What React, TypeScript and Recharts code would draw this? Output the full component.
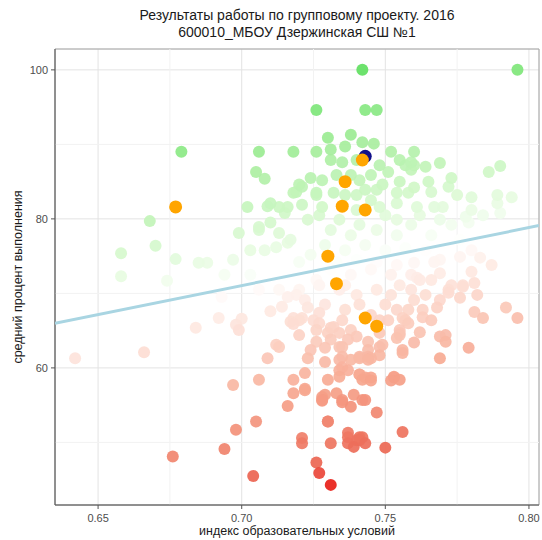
import React from "react";
import {
  ScatterChart,
  Scatter,
  XAxis,
  YAxis,
  CartesianGrid,
  ReferenceLine,
  ReferenceArea,
} from "recharts";

// индекс образовательных условий / средний процент выполнения
const xDomain: [number, number] = [0.635, 0.8035];
const yDomain: [number, number] = [41.6, 102.8];
const xTicks = [0.65, 0.7, 0.75, 0.8];
const yTicks = [60, 80, 100];
const xMinor = [0.675, 0.725, 0.775];
const yMinor = [50, 70, 90];

// линия тренда (концы на краях панели)
const trendX = [0.635, 0.8035];
const trendY = [66.0, 79.1];

// все школы (серая масса точек), [индекс, процент]
const schoolsAbove: [number, number][] = [
  [0.742, 100], [0.796, 100], [0.726, 94.6], [0.743, 94.6], [0.747, 94.6],
  [0.679, 89.0], [0.706, 89.0], [0.718, 89.0], [0.705, 86.3], [0.708, 85.4], [0.718, 83.5],
  [0.702, 81.6], [0.709, 81.7], [0.715, 80.8], [0.668, 79.7], [0.706, 78.9],
  [0.730, 90.9], [0.738, 91.3], [0.726, 89.0], [0.731, 89.3], [0.736, 89.7], [0.742, 90.3], [0.746, 90.1],
  [0.752, 89.0], [0.760, 89.0], [0.755, 87.9], [0.757, 87.2], [0.760, 87.2], [0.764, 87.0], [0.769, 87.5],
  [0.786, 86.3], [0.790, 87.1], [0.731, 87.9], [0.735, 87.6], [0.748, 87.2], [0.751, 86.3],
  [0.724, 85.5], [0.728, 85.2], [0.720, 84.6], [0.755, 85.0], [0.765, 85.0], [0.773, 85.5], [0.772, 84.3],
  [0.775, 83.2], [0.780, 82.9], [0.789, 83.2], [0.794, 82.9], [0.726, 83.5], [0.747, 83.9], [0.758, 83.5],
  [0.754, 82.1], [0.767, 81.6], [0.721, 81.9], [0.728, 81.6], [0.748, 81.6], [0.778, 80.3], [0.784, 80.5],
  [0.789, 82.1], [0.721, 84.3], [0.719, 83.6], [0.710, 82.1], [0.713, 81.6], [0.716, 81.6], [0.726, 83.2],
  [0.732, 83.5], [0.723, 79.9], [0.710, 79.5], [0.706, 78.5], [0.699, 78.1], [0.713, 78.1], [0.703, 75.8],
  [0.708, 75.8], [0.716, 76.8], [0.759, 87.6], [0.759, 86.6], [0.749, 84.6], [0.760, 84.2], [0.754, 83.5],
  [0.766, 83.6], [0.761, 81.6], [0.770, 81.6], [0.780, 81.2], [0.790, 80.8], [0.779, 79.5],
  [0.658, 75.4], [0.658, 72.3], [0.670, 76.4], [0.677, 74.6], [0.685, 74.1], [0.674, 71.7],
  [0.697, 74.5], [0.688, 74.1], [0.717, 77.2], [0.712, 76.2], [0.694, 72.5], [0.703, 72.5],
  [0.727, 80.5], [0.734, 79.9], [0.740, 81.2], [0.740, 83.2], [0.736, 83.2], [0.743, 83.9], [0.745, 82.5],
  [0.750, 80.5], [0.754, 79.9], [0.741, 79.2], [0.738, 77.8], [0.731, 78.5], [0.747, 78.5], [0.754, 77.8],
  [0.759, 79.2], [0.762, 80.5], [0.769, 79.9], [0.773, 79.2], [0.766, 77.8], [0.729, 76.5], [0.736, 75.8],
  [0.743, 76.5], [0.750, 75.8], [0.757, 76.1], [0.764, 75.8], [0.771, 76.5], [0.724, 75.2], [0.720, 74.2],
  [0.733, 74.2], [0.740, 74.5], [0.747, 74.2], [0.754, 73.8], [0.760, 74.1], [0.767, 74.2], [0.776, 77.2],
  [0.780, 75.8], [0.738, 85.9], [0.741, 85.2], [0.733, 85.9], [0.745, 85.9], [0.740, 87.9],
];

const schoolsBelow: [number, number][] = [
  [0.642, 61.3], [0.666, 62.1], [0.684, 65.4], [0.692, 66.7], [0.698, 65.8], [0.700, 66.6], [0.699, 65.1],
  [0.693, 69.5], [0.710, 67.6], [0.714, 68.2], [0.716, 69.5], [0.719, 69.8], [0.718, 66.7], [0.718, 65.9],
  [0.720, 64.4], [0.712, 63.1], [0.713, 62.8], [0.709, 61.3], [0.717, 66.2], [0.720, 66.4],
  [0.723, 61.3], [0.724, 62.4], [0.729, 60.8], [0.726, 63.5], [0.697, 57.7], [0.706, 58.4], [0.718, 58.4],
  [0.722, 59.3], [0.722, 57.2], [0.718, 56.6], [0.716, 54.9], [0.705, 52.8], [0.698, 51.7],
  [0.730, 58.4], [0.730, 52.8], [0.728, 55.7], [0.729, 56.4], [0.733, 56.6], [0.735, 55.7], [0.738, 54.8],
  [0.739, 56.4], [0.742, 55.7], [0.734, 59.7], [0.737, 59.7], [0.741, 59.1], [0.742, 58.4], [0.735, 61.5],
  [0.737, 51.3], [0.741, 50.7], [0.742, 50.7], [0.721, 50.6], [0.729, 62.7], [0.734, 61.1], [0.734, 62.8],
  [0.738, 61.1], [0.741, 61.5], [0.744, 61.1], [0.737, 63.8], [0.740, 64.2], [0.744, 63.5], [0.730, 64.7],
  [0.726, 65.1], [0.731, 63.8], [0.725, 66.4], [0.723, 68.1], [0.727, 67.4], [0.732, 65.5], [0.735, 66.4],
  [0.738, 65.1], [0.769, 72.7], [0.780, 72.9], [0.781, 71.4], [0.777, 71.1], [0.772, 70.1], [0.776, 69.4],
  [0.782, 69.8], [0.792, 68.1], [0.796, 66.7], [0.781, 67.5], [0.784, 66.7], [0.763, 67.8], [0.768, 68.1],
  [0.766, 66.4], [0.763, 66.8], [0.762, 64.8], [0.760, 63.4], [0.769, 64.2], [0.771, 64.4], [0.771, 63.5],
  [0.779, 62.7], [0.769, 61.3], [0.755, 64.4], [0.756, 62.4], [0.754, 64.0], [0.758, 66.0], [0.756, 66.7],
  [0.753, 58.7], [0.755, 58.4], [0.747, 54.0], [0.756, 51.4], [0.743, 55.7], [0.748, 62.8], [0.745, 61.3],
  [0.748, 61.7], [0.743, 58.7], [0.745, 58.7], [0.741, 50.3], [0.787, 73.8], [0.783, 74.8], [0.776, 74.9],
  [0.777, 70.9], [0.756, 62.0], [0.755, 64.7], [0.755, 65.1], [0.749, 63.1], [0.748, 64.7], [0.751, 66.4],
  [0.744, 62.4], [0.744, 61.5], [0.741, 61.3], [0.735, 62.8], [0.734, 64.7], [0.721, 66.7], [0.727, 66.0],
  [0.731, 65.4], [0.748, 66.4], [0.758, 67.8], [0.757, 66.4], [0.769, 74.5], [0.772, 70.5], [0.761, 72.1],
  [0.722, 57.0], [0.734, 58.8], [0.735, 60.1], [0.741, 59.1], [0.745, 58.3], [0.752, 58.3], [0.753, 58.8],
  [0.728, 56.1], [0.728, 55.6], [0.735, 55.4], [0.730, 52.8], [0.721, 49.9], [0.731, 49.9], [0.737, 50.7],
  [0.737, 49.9], [0.740, 50.3], [0.739, 49.4], [0.743, 49.9], [0.750, 49.3], [0.726, 47.3], [0.727, 45.9],
  [0.731, 44.3], [0.694, 49.1], [0.676, 48.1], [0.704, 45.5],
  [0.720, 70.5], [0.727, 71.1], [0.734, 70.5], [0.740, 69.8], [0.747, 70.5], [0.752, 69.8], [0.759, 70.5],
  [0.764, 69.8], [0.769, 69.1], [0.731, 73.2], [0.738, 72.5], [0.745, 73.2], [0.752, 72.5], [0.759, 72.5],
  [0.766, 71.8], [0.741, 68.5], [0.750, 68.5], [0.760, 69.1], [0.729, 68.5], [0.736, 67.8], [0.745, 67.1],
  [0.754, 67.8], [0.706, 70.5], [0.713, 70.5], [0.722, 69.1], [0.726, 71.8], [0.736, 71.1], [0.755, 71.1],
  [0.762, 71.8], [0.773, 71.1],
];

// участники группового проекта (оранжевые)
const projectSchools: [number, number][] = [
  [0.677, 81.6], [0.742, 87.9], [0.736, 85.0], [0.735, 81.7], [0.743, 81.2],
  [0.730, 75.0], [0.733, 71.3], [0.743, 66.7], [0.747, 65.6],
];

// 600010_МБОУ Дзержинская СШ №1
const ourSchool: [number, number][] = [[0.743, 88.4]];

const trendAt = (x: number) =>
  trendY[0] + ((x - trendX[0]) * (trendY[1] - trendY[0])) / (trendX[1] - trendX[0]);

type Stop = [number, [number, number, number]];
const greenStops: Stop[] = [
  [0, [255, 255, 255]],
  [0.25, [220, 250, 212]],
  [0.6, [168, 238, 158]],
  [1, [95, 224, 95]],
];
const redStops: Stop[] = [
  [0, [255, 255, 255]],
  [0.3, [252, 208, 194]],
  [0.55, [246, 164, 140]],
  [0.87, [236, 104, 84]],
  [1, [232, 25, 18]],
];

const mix = (stops: Stop[], t: number) => {
  const v = Math.max(0, Math.min(1, t));
  for (let i = 1; i < stops.length; i++) {
    if (v <= stops[i][0]) {
      const [t0, c0] = stops[i - 1];
      const [t1, c1] = stops[i];
      const k = (v - t0) / (t1 - t0);
      const c = c0.map((a, j) => Math.round(a + (c1[j] - a) * k));
      return `rgb(${c[0]},${c[1]},${c[2]})`;
    }
  }
  const c = stops[stops.length - 1][1];
  return `rgb(${c[0]},${c[1]},${c[2]})`;
};

const residualColor = (x: number, y: number) => {
  const r = y - trendAt(x);
  return r >= 0 ? mix(greenStops, r / 26) : mix(redStops, -r / 29.5);
};

const toPoints = (arr: [number, number][]) => arr.map(([x, y]) => ({ x, y }));

const allSchools = toPoints([...schoolsAbove, ...schoolsBelow]).sort(
  (a, b) => Math.abs(a.y - trendAt(a.x)) - Math.abs(b.y - trendAt(b.x)),
);

const trendData = trendX.map((x, i) => ({ x, y: trendY[i] }));

const SchoolDot = (props: any) => {
  const { cx, cy, payload } = props;
  if (cx == null || cy == null) return <g />;
  return (
    <circle cx={cx} cy={cy} r={6} fill={residualColor(payload.x, payload.y)} fillOpacity={0.92} />
  );
};

const makeDot = (color: string, r: number) => (props: any) => {
  const { cx, cy } = props;
  if (cx == null || cy == null) return <g />;
  return <circle cx={cx} cy={cy} r={r} fill={color} />;
};

const NoDot = () => <g />;

const font = '"Liberation Sans", Arial, sans-serif';

export default function App() {
  return (
    <div
      style={{
        position: "absolute",
        left: 0,
        top: 0,
        width: 542,
        height: 540,
        background: "#fff",
        fontFamily: font,
      }}
    >
      <div
        style={{
          position: "absolute",
          left: 55,
          width: 484,
          top: 7,
          textAlign: "center",
          fontSize: 14,
          lineHeight: "17px",
          color: "#1a1a1a",
        }}
      >
        Результаты работы по групповому проекту. 2016
        <br />
        600010_МБОУ Дзержинская СШ №1
      </div>
      <div
        style={{
          position: "absolute",
          left: 55,
          width: 484,
          top: 524,
          textAlign: "center",
          fontSize: 12.5,
          color: "#1a1a1a",
        }}
      >
        индекс образовательных условий
      </div>
      <div
        style={{
          position: "absolute",
          left: 18 - 150,
          top: 277 - 9,
          width: 300,
          textAlign: "center",
          fontSize: 12.5,
          lineHeight: "18px",
          color: "#1a1a1a",
          transform: "rotate(-90deg)",
        }}
      >
        средний процент выполнения
      </div>
      <ScatterChart
        width={542}
        height={540}
        margin={{ top: 49, right: 3, bottom: 15, left: 0 }}
        style={{ position: "absolute", left: 0, top: 0 }}
      >
        {xMinor.map((v) => (
          <ReferenceLine key={`xm${v}`} x={v} stroke="#f2f2f2" strokeWidth={1} />
        ))}
        {yMinor.map((v) => (
          <ReferenceLine key={`ym${v}`} y={v} stroke="#f2f2f2" strokeWidth={1} />
        ))}
        <CartesianGrid stroke="#e3e3e3" strokeWidth={1} />
        <XAxis
          type="number"
          dataKey="x"
          domain={xDomain}
          ticks={xTicks}
          allowDataOverflow
          height={20}
          tickFormatter={(v: number) => v.toFixed(2)}
          tick={{ fill: "#4d4d4d", fontSize: 11, fontFamily: font }}
          tickSize={4}
          tickMargin={5}
          stroke="#555"
        />
        <YAxis
          type="number"
          dataKey="y"
          domain={yDomain}
          ticks={yTicks}
          allowDataOverflow
          width={55}
          tick={{ fill: "#4d4d4d", fontSize: 11, fontFamily: font }}
          tickSize={4}
          tickMargin={3}
          stroke="#555"
        />
        <ReferenceArea
          x1={xDomain[0]}
          x2={xDomain[1]}
          y1={yDomain[0]}
          y2={yDomain[1]}
          fill="none"
          stroke="#a6a6a6"
          strokeWidth={1}
        />
        <Scatter data={allSchools} shape={SchoolDot} isAnimationActive={false} />
        <Scatter
          data={trendData}
          line={{ stroke: "#a9d5e2", strokeWidth: 3 }}
          lineType="joint"
          shape={NoDot}
          isAnimationActive={false}
        />
        <Scatter data={toPoints(ourSchool)} shape={makeDot("#10108a", 6.5)} isAnimationActive={false} />
        <Scatter
          data={toPoints(projectSchools)}
          shape={makeDot("#ffa500", 6.5)}
          isAnimationActive={false}
        />
      </ScatterChart>
    </div>
  );
}
